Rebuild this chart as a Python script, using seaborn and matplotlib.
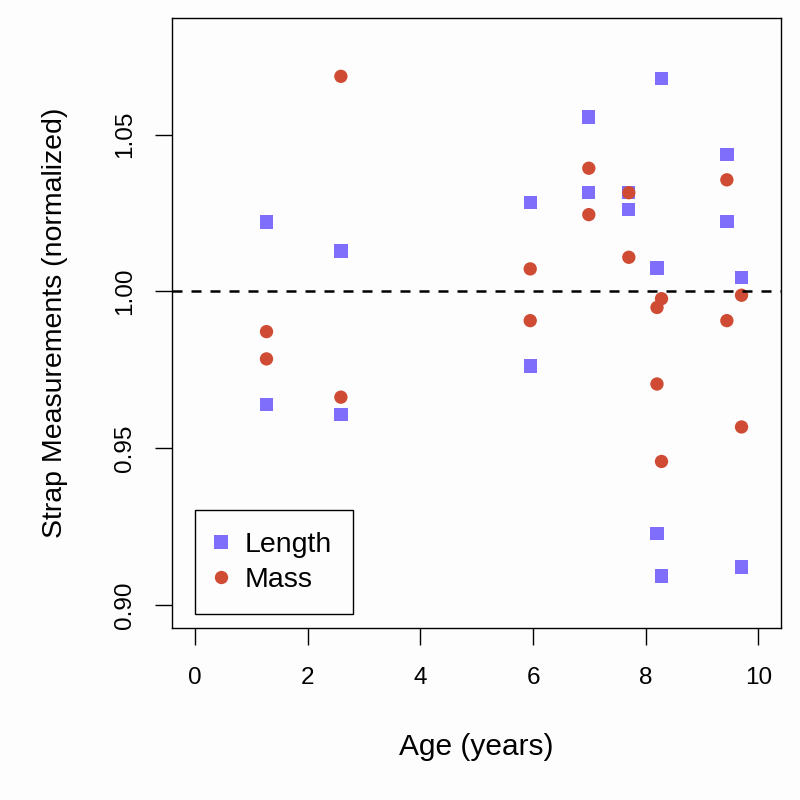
import numpy as np
import pandas as pd
import seaborn as sns
import matplotlib.pyplot as plt

# data
ages = [1.27, 2.59, 5.95, 6.99, 7.70, 8.20, 8.28, 9.44, 9.70]
length_hi = [1.0222, 1.0129, 1.0284, 1.0556, 1.0315, 1.0075, 1.0679, 1.0436, 1.0045]
length_lo = [0.9639, 0.9607, 0.9762, 1.0315, 1.0261, 0.9229, 0.9093, 1.0224, 0.9121]
mass_hi = [0.9872, 1.0686, 1.0072, 1.0393, 1.0315, 0.9949, 0.9977, 1.0356, 0.9988]
mass_lo = [0.9785, 0.9663, 0.9907, 1.0245, 1.0109, 0.9705, 0.9458, 0.9907, 0.9568]

series = ["Length", "Mass"]
colours = {"Length": "#7F6EFB", "Mass": "#CF4B33"}
markers = {"Length": "s", "Mass": "o"}

x_ticks = [0, 2, 4, 6, 8, 10]
y_ticks = [0.90, 0.95, 1.00, 1.05]
y_tick_labels = ["0.90", "0.95", "1.00", "1.05"]

df = pd.DataFrame({
    "Age": ages * 4,
    "Value": length_hi + length_lo + mass_hi + mass_lo,
    "Kind": ["Length"] * 18 + ["Mass"] * 18,
})

sns.set_theme(style="white")
plt.rcParams["font.family"] = ["Liberation Sans", "DejaVu Sans"]
plt.rcParams["text.color"] = "black"

fig = plt.figure(figsize=(8, 8), dpi=100, facecolor="#fdfdfd")
ax = fig.add_axes([0.2155, 0.2154, 0.7607, 0.7621])
ax.set_facecolor("#fdfdfd")

sns.scatterplot(data=df, x="Age", y="Value", hue="Kind", style="Kind",
                hue_order=series, style_order=series,
                palette=colours, markers=markers, s=92, linewidth=0, ax=ax)

ax.axhline(1.0, color="black", lw=1.8, ls=(0, (4, 3.6)), zorder=1)

ax.set_xlim(-0.4, 10.4)
ax.set_ylim(0.8928, 1.0872)
ax.set_xticks(x_ticks)
ax.set_yticks(y_ticks)
ax.set_yticklabels(y_tick_labels)

for sp in ax.spines.values():
    sp.set_color("black")
    sp.set_linewidth(1.0)

ax.tick_params(axis="both", which="major", direction="out", length=12,
               width=1.0, color="black", labelsize=17.5, labelcolor="black",
               left=True, bottom=True)
ax.tick_params(axis="x", pad=16)
ax.tick_params(axis="y", pad=14)
for lab in ax.get_yticklabels():
    lab.set_rotation(90)
    lab.set_va("center")

ax.set_xlabel("Age (years)", fontsize=21.5, color="black")
ax.set_ylabel("Strap Measurements (normalized)", fontsize=20.5, color="black")
ax.xaxis.set_label_coords(0.5, -0.1724)
ax.yaxis.set_label_coords(-0.1715, 0.5)

handles, labels = ax.get_legend_handles_labels()
leg = ax.legend(handles, labels, loc="lower left", bbox_to_anchor=(0.0366, 0.022),
                borderaxespad=0, fontsize=20.5, frameon=True, fancybox=False,
                edgecolor="black", facecolor="#fdfdfd", framealpha=1,
                borderpad=0.74, handlelength=0.4, handletextpad=0.6,
                labelspacing=0.34, markerscale=1.0)
leg.get_frame().set_linewidth(1.0)
for t in leg.get_texts():
    t.set_color("black")

plt.savefig("out.png", dpi=100, facecolor=fig.get_facecolor())
plt.close()
